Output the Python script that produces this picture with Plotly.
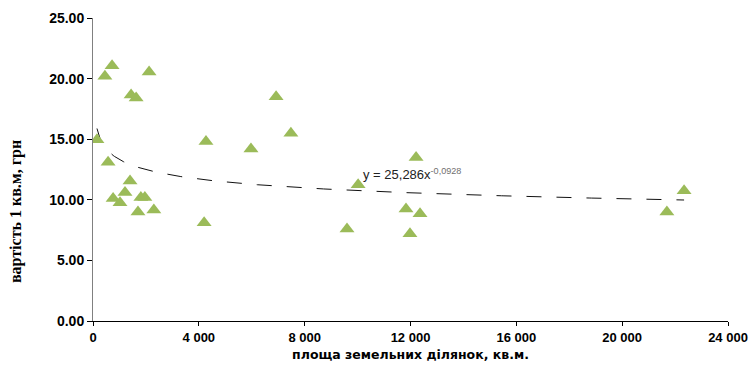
import numpy as np
import plotly.graph_objects as go

# Data
area = [150, 450, 720, 570, 760, 1020, 1210, 1400, 1440, 1630, 1700, 1810, 1960, 2120, 2300,
        4200, 4270, 5970, 6920, 7480, 9600, 10020, 11830, 11980, 12210, 12360, 21690, 22340]
price = [14.95, 20.2, 21.05, 13.1, 10.1, 9.75, 10.6, 11.55, 18.65, 18.4, 9.0, 10.2, 10.2, 20.55, 9.15,
         8.1, 14.8, 14.2, 18.5, 15.5, 7.6, 11.25, 9.25, 7.2, 13.5, 8.85, 9.0, 10.75]

# Power trendline coefficients as displayed on the chart
coef_a = 25.286
coef_b = -0.0928

x_ticks = [0, 4000, 8000, 12000, 16000, 20000, 24000]
y_ticks = [0, 5, 10, 15, 20, 25]

tx = np.linspace(min(area), max(area), 400)
ty = coef_a * tx ** coef_b

fig = go.Figure()
fig.add_trace(go.Scatter(x=tx, y=ty, mode="lines",
                         line=dict(color="#111111", width=1, dash="longdash"),
                         hoverinfo="skip", showlegend=False))
fig.add_trace(go.Scatter(x=area, y=price, mode="markers",
                         marker=dict(symbol="triangle-up", size=13, color="#9BBB59",
                                     line=dict(width=0)),
                         showlegend=False))

fig.add_annotation(x=10130, y=12.15, xref="x", yref="y", xanchor="left", yanchor="middle",
                   text="y = 25,286x<sup><span style='color:#707070'>-0,0928</span></sup>",
                   showarrow=False,
                   font=dict(family="Liberation Sans, Arial", size=13, color="#222222"))

# y-axis title placed as a rotated annotation
fig.add_annotation(x=-0.121, y=0.36, xref="paper", yref="paper",
                   xanchor="center", yanchor="middle", textangle=-90,
                   text="вартість 1 кв.м, грн", showarrow=False,
                   font=dict(family="Liberation Serif, Times New Roman", size=16,
                             color="black", weight="bold"))

fig.update_layout(
    width=755, height=371,
    margin=dict(l=93, r=27, t=18, b=50),
    paper_bgcolor="white", plot_bgcolor="white",
    separators=". ",
    xaxis=dict(range=[0, 24000], tickvals=x_ticks, tickformat=",d", automargin=False,
               showgrid=False, zeroline=False,
               showline=True, linecolor="black", linewidth=1,
               ticks="outside", ticklen=4, tickcolor="black",
               tickfont=dict(family="Liberation Sans, Arial", size=13, color="black", weight="bold"),
               title=dict(text="площа земельних ділянок, кв.м.", standoff=6,
                          font=dict(family="DejaVu Sans", size=12.5, color="black",
                                    weight="bold"))),
    yaxis=dict(range=[0, 25], tickvals=y_ticks, tickformat=".2f", automargin=False,
               showgrid=False, zeroline=False,
               showline=True, linecolor="#808080", linewidth=1,
               ticks="outside", ticklen=5, tickcolor="black",
               tickfont=dict(family="Liberation Sans, Arial", size=14, color="black", weight="bold")),
)

fig.write_html("out.html", config={"displayModeBar": False},
               post_script="document.body.style.margin='0';")
